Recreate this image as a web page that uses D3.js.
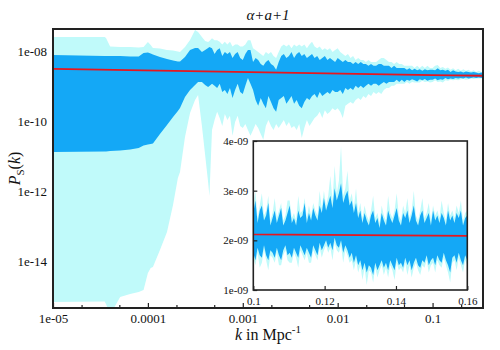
<!DOCTYPE html>
<html>
<head>
<meta charset="utf-8">
<script src="https://cdn.jsdelivr.net/npm/d3@7"></script>
<style>
body { margin: 0; background: #fff; }
</style>
</head>
<body>
<svg id="chart" width="500" height="350"></svg>
<script>
// ---- main panel: k (1/Mpc) and band edges of P_S(k) ----
var mainK = [1e-5, 3.5e-5, 3.62e-5, 4.0e-5, 5.1e-5, 6.5e-5, 8.0e-5, 9.0e-5, 1.0e-4, 1.07e-4, 1.13e-4, 1.34e-4,
  1.59e-4, 1.84e-4, 2.07e-4, 2.18e-4, 2.46e-4, 2.78e-4, 3.14e-4, 3.38e-4, 3.71e-4, 4.01e-4, 4.31e-4, 4.45e-4,
  4.739e-4, 5.043e-4, 5.367e-4, 5.712e-4, 6.079e-4, 6.469e-4, 6.884e-4, 7.326e-4, 7.797e-4, 8.297e-4, 8.830e-4, 9.397e-4,
  1.000e-3, 1.064e-3, 1.133e-3, 1.205e-3, 1.283e-3, 1.365e-3, 1.453e-3, 1.546e-3, 1.645e-3, 1.751e-3, 1.863e-3, 1.983e-3,
  2.110e-3, 2.246e-3, 2.390e-3, 2.543e-3, 2.707e-3, 2.881e-3, 3.066e-3, 3.262e-3, 3.472e-3, 3.695e-3, 3.932e-3, 4.184e-3,
  4.453e-3, 4.739e-3, 5.043e-3, 5.367e-3, 5.712e-3, 6.079e-3, 6.469e-3, 6.884e-3, 7.326e-3, 7.797e-3, 8.297e-3, 8.830e-3, 9.397e-3,
  1.000e-2, 1.064e-2, 1.133e-2, 1.205e-2, 1.283e-2, 1.365e-2, 1.453e-2, 1.546e-2, 1.645e-2, 1.751e-2, 1.863e-2, 1.983e-2,
  2.110e-2, 2.246e-2, 2.390e-2, 2.543e-2, 2.707e-2, 2.881e-2, 3.066e-2, 3.262e-2, 3.472e-2, 3.695e-2, 3.932e-2, 4.184e-2,
  4.453e-2, 4.739e-2, 5.043e-2, 5.367e-2, 5.712e-2, 6.079e-2, 6.469e-2, 6.884e-2, 7.326e-2, 7.797e-2, 8.297e-2, 8.830e-2, 9.397e-2,
  0.1000, 0.1064, 0.1133, 0.1205, 0.1283, 0.1365, 0.1453, 0.1546, 0.1645, 0.1751, 0.1863, 0.1983,
  0.2110, 0.2246, 0.2390, 0.2543, 0.2707, 0.2881, 0.3066, 0.3262, 0.34];

var mainHi2 = [2.6e-8, 2.6e-8, 2.43e-8, 1.39e-8, 1.35e-8, 1.35e-8, 1.3e-8, 1.35e-8, 1.87e-8, 1.53e-8, 1.26e-8, 1.22e-8,
  1.1e-8, 1.07e-8, 1.0e-8, 9.7e-9, 1.35e-8, 2.13e-8, 4.1e-8, 3.6e-8, 2.6e-8, 2.0e-8, 1.87e-8, 2.0e-8,
  2.4e-8, 2.1e-8, 2.1e-8, 1.9e-8, 1.6e-8, 1.9e-8, 1.6e-8, 1.9e-8, 1.4e-8, 1.6e-8, 1.6e-8, 1.4e-8,
  1.4e-8, 1.6e-8, 2.1e-8, 2.1e-8, 1.25e-8, 1.1e-8, 9.7e-9, 8.5e-9, 7.4e-9, 9.7e-9, 8.5e-9, 9.7e-9,
  7.4e-9, 6.5e-9, 9.7e-9, 1.4e-8, 1.6e-8, 1.4e-8, 1.6e-8, 1.25e-8, 1.6e-8, 1.4e-8, 1.6e-8, 1.4e-8,
  1.6e-8, 1.25e-8, 1.6e-8, 1.9e-8, 1.4e-8, 1.25e-8, 1.4e-8, 1.1e-8, 1.25e-8, 1.1e-8, 1.25e-8, 9.7e-9, 1.1e-8,
  1.25e-8, 9.7e-9, 8.5e-9, 7.4e-9, 8.5e-9, 6.5e-9, 7.4e-9, 5.7e-9, 6.5e-9, 5.7e-9, 5.7e-9, 5.0e-9,
  5.7e-9, 5.0e-9, 5.0e-9, 5.0e-9, 5.7e-9, 6.5e-9, 6.5e-9, 5.7e-9, 5.0e-9, 5.0e-9, 4.4e-9, 5.0e-9,
  4.4e-9, 4.4e-9, 3.9e-9, 3.9e-9, 3.9e-9, 3.9e-9, 3.4e-9, 3.9e-9, 3.4e-9, 3.9e-9, 3.4e-9, 3.9e-9, 3.4e-9,
  3.4e-9, 3.9e-9, 4.1e-9, 3.4e-9, 3.6e-9, 3.2e-9, 3.5e-9, 3.0e-9, 3.3e-9, 2.9e-9, 3.2e-9, 2.8e-9,
  3.1e-9, 2.8e-9, 3.0e-9, 2.7e-9, 2.9e-9, 2.6e-9, 2.8e-9, 2.6e-9, 2.6e-9];

var mainHi1 = [7.9e-9, 7.4e-9, 7.4e-9, 7.4e-9, 7.4e-9, 7.2e-9, 7.2e-9, 9.06e-9, 9.36e-9, 8.77e-9, 8.2e-9, 6.97e-9,
  6.1e-9, 5.53e-9, 5.18e-9, 5.18e-9, 6.97e-9, 1.1e-8, 1.26e-8, 1.26e-8, 9.7e-9, 1.1e-8, 1.26e-8, 1.35e-8,
  1.25e-8, 8.5e-9, 1.1e-8, 1.25e-8, 7.4e-9, 9.7e-9, 8.5e-9, 9.7e-9, 6.5e-9, 8.5e-9, 9.7e-9, 6.5e-9,
  5.7e-9, 8.5e-9, 1.1e-8, 1.1e-8, 5.0e-9, 6.5e-9, 5.7e-9, 4.4e-9, 3.9e-9, 5.0e-9, 5.7e-9, 4.4e-9,
  3.9e-9, 3.0e-9, 5.0e-9, 7.4e-9, 8.5e-9, 6.5e-9, 7.4e-9, 9.7e-9, 6.5e-9, 8.5e-9, 9.7e-9, 7.4e-9,
  8.5e-9, 6.5e-9, 7.4e-9, 8.5e-9, 6.5e-9, 7.4e-9, 5.7e-9, 6.5e-9, 7.4e-9, 5.7e-9, 6.5e-9, 5.7e-9, 5.0e-9,
  6.5e-9, 5.7e-9, 5.0e-9, 5.7e-9, 5.0e-9, 5.0e-9, 4.4e-9, 5.0e-9, 4.4e-9, 5.0e-9, 4.4e-9, 4.4e-9,
  3.9e-9, 4.4e-9, 3.9e-9, 3.9e-9, 4.4e-9, 4.4e-9, 3.9e-9, 3.9e-9, 3.9e-9, 3.4e-9, 3.9e-9, 3.4e-9,
  3.4e-9, 3.4e-9, 3.4e-9, 3.0e-9, 3.3e-9, 2.9e-9, 3.2e-9, 2.9e-9, 3.1e-9, 2.8e-9, 3.1e-9, 2.9e-9, 3.0e-9,
  3.0e-9, 2.9e-9, 3.3e-9, 2.9e-9, 3.0e-9, 2.8e-9, 3.0e-9, 2.6e-9, 2.9e-9, 2.7e-9, 2.6e-9, 2.7e-9,
  2.5e-9, 2.7e-9, 2.6e-9, 2.5e-9, 2.6e-9, 2.5e-9, 2.4e-9, 2.5e-9, 2.4e-9];

var mainLo1 = [1.35e-11, 1.39e-11, 1.39e-11, 1.44e-11, 1.48e-11, 1.58e-11, 1.75e-11, 2.06e-11, 2.2e-11, 2.28e-11, 2.35e-11, 4.4e-11,
  7.9e-11, 1.35e-10, 2.0e-10, 2.43e-10, 5.0e-10, 7.9e-10, 1.1e-9, 1.35e-9, 1.35e-9, 1.1e-9, 9.7e-10, 1.03e-9,
  1.2e-9, 1.05e-9, 9.1e-10, 1.2e-9, 7e-10, 8e-10, 6.1e-10, 9.1e-10, 4.7e-10, 8e-10, 1.2e-9, 7e-10,
  6.1e-10, 1.05e-9, 1.75e-9, 1.2e-9, 8e-10, 4.1e-10, 2.8e-10, 4.7e-10, 3.2e-10, 2.4e-10, 5.4e-10, 3.6e-10,
  2.4e-10, 1.9e-10, 4.1e-10, 4.7e-10, 5.4e-10, 3.2e-10, 4.1e-10, 5.4e-10, 3.2e-10, 4.1e-10, 2.8e-10, 2.4e-10,
  3.6e-10, 4.7e-10, 4.1e-10, 5.4e-10, 6.1e-10, 4.7e-10, 7e-10, 5.4e-10, 6.1e-10, 7e-10, 6.1e-10, 8e-10, 7e-10,
  7e-10, 8e-10, 6.1e-10, 9.1e-10, 8e-10, 9.1e-10, 8e-10, 1.05e-9, 9.1e-10, 1.05e-9, 9.1e-10, 1.05e-9,
  1.2e-9, 1.05e-9, 1.2e-9, 1.2e-9, 1.05e-9, 1.2e-9, 1.35e-9, 1.2e-9, 1.35e-9, 1.35e-9, 1.35e-9, 1.55e-9,
  1.35e-9, 1.55e-9, 1.35e-9, 1.55e-9, 1.45e-9, 1.6e-9, 1.5e-9, 1.4e-9, 1.6e-9, 1.5e-9, 1.65e-9, 1.45e-9, 1.55e-9,
  1.55e-9, 1.7e-9, 1.5e-9, 1.6e-9, 1.55e-9, 1.75e-9, 1.6e-9, 1.7e-9, 1.65e-9, 1.75e-9, 1.7e-9, 1.75e-9,
  1.7e-9, 1.8e-9, 1.7e-9, 1.75e-9, 1.8e-9, 1.75e-9, 1.8e-9, 1.75e-9, 1.8e-9];

var mainLo2 = [7.0e-16, 7.2e-16, 6.1e-16, 3.0e-16, 9.7e-16, 1.18e-15, 1.35e-15, 1.53e-15, 4.7e-15, 6.5e-15, 7.0e-15, 2.13e-14,
  7.0e-14, 4.1e-13, 2.43e-12, 3.6e-12, 3.6e-11, 1.75e-10, 4.1e-10, 5.7e-10, 7.4e-11, 1.1e-11, 1.87e-12, 7.4e-13,
  5.7e-11, 1.1e-10, 1.9e-10, 1.25e-10, 7.4e-11, 1.65e-10, 1.1e-10, 1.45e-10, 3.9e-11, 9.7e-11, 1.45e-10, 7.4e-11,
  6.5e-11, 8.5e-11, 5.7e-11, 3.9e-11, 5.7e-11, 8.5e-11, 6.5e-11, 4.4e-11, 3.0e-11, 7.4e-11, 1.1e-10, 7.4e-11,
  5.7e-11, 8.5e-11, 6.5e-11, 8.5e-11, 1.1e-10, 7.4e-11, 9.7e-11, 6.5e-11, 7.4e-11, 5.7e-11, 8.5e-11, 3.4e-11,
  6.5e-11, 1.1e-10, 7.4e-11, 9.7e-11, 1.25e-10, 1.45e-10, 1.9e-10, 1.25e-10, 2.1e-10, 1.65e-10, 1.9e-10, 2.4e-10, 2.1e-10,
  2.4e-10, 1.9e-10, 1.25e-10, 2.8e-10, 3.2e-10, 3.6e-10, 3.2e-10, 4.1e-10, 4.7e-10, 4.1e-10, 5.4e-10, 4.7e-10,
  6.1e-10, 5.4e-10, 7e-10, 6.1e-10, 7e-10, 6.1e-10, 8e-10, 9.1e-10, 9.1e-10, 1.05e-9, 1.05e-9, 1.2e-9,
  1.2e-9, 1.2e-9, 1.2e-9, 1.35e-9, 1.2e-9, 1.35e-9, 1.3e-9, 1.3e-9, 1.3e-9, 1.45e-9, 1.35e-9, 1.4e-9, 1.3e-9,
  1.35e-9, 1.5e-9, 1.35e-9, 1.4e-9, 1.3e-9, 1.5e-9, 1.45e-9, 1.55e-9, 1.5e-9, 1.55e-9, 1.5e-9, 1.6e-9,
  1.65e-9, 1.55e-9, 1.6e-9, 1.7e-9, 1.65e-9, 1.7e-9, 1.7e-9, 1.7e-9, 1.75e-9];

// best-fit power law (red line)
var fitK = [1e-5, 0.1, 0.16, 0.34];
var fitP = [3.2e-9, 2.12e-9, 2.09e-9, 2.03e-9];

// ---- inset: zoom on 0.1 < k < 0.16, values in units of 1e-9 ----
var insetUnit = 1e-9;
var insetK = [0.1000, 0.1006, 0.1012, 0.1018, 0.1024, 0.1030, 0.1036, 0.1042, 0.1048, 0.1054,
  0.1060, 0.1066, 0.1072, 0.1078, 0.1084, 0.1090, 0.1096, 0.1102, 0.1108, 0.1114,
  0.1120, 0.1126, 0.1132, 0.1138, 0.1144, 0.1150, 0.1156, 0.1162, 0.1168, 0.1174,
  0.1180, 0.1186, 0.1192, 0.1198, 0.1204, 0.1210, 0.1216, 0.1222, 0.1228, 0.1234,
  0.1240, 0.1246, 0.1252, 0.1258, 0.1264, 0.1270, 0.1276, 0.1282, 0.1288, 0.1294,
  0.1300, 0.1306, 0.1312, 0.1318, 0.1324, 0.1330, 0.1336, 0.1342, 0.1348, 0.1354,
  0.1360, 0.1366, 0.1372, 0.1378, 0.1384, 0.1390, 0.1396, 0.1402, 0.1408, 0.1414,
  0.1420, 0.1426, 0.1432, 0.1438, 0.1444, 0.1450, 0.1456, 0.1462, 0.1468, 0.1474,
  0.1480, 0.1486, 0.1492, 0.1498, 0.1504, 0.1510, 0.1516, 0.1522, 0.1528, 0.1534,
  0.1540, 0.1546, 0.1552, 0.1558, 0.1564, 0.1570, 0.1576, 0.1582, 0.1588, 0.1594, 0.1600];

var insetHi2 = [2.65, 3.0, 2.45, 2.7, 2.95, 2.5, 2.6, 2.9, 2.4, 2.55,
  2.85, 2.45, 2.6, 2.75, 2.4, 2.5, 2.8, 2.8, 2.45, 2.55,
  2.4, 2.9, 2.55, 2.6, 2.85, 2.45, 2.7, 2.5, 2.75, 2.6,
  2.5, 3.0, 2.65, 3.0, 2.7, 2.9, 3.3, 2.8, 3.5, 2.95,
  3.2, 3.9, 2.9, 3.05, 3.4, 2.8, 2.95, 2.65, 3.05, 2.55,
  2.75, 2.45, 2.7, 2.5, 2.4, 2.6, 2.9, 2.45, 2.55, 2.35,
  2.7, 2.5, 2.4, 2.9, 2.55, 2.45, 2.6, 2.95, 2.5, 2.4,
  2.7, 2.55, 2.85, 2.45, 2.6, 3.0, 2.5, 2.4, 2.6, 2.85,
  2.45, 2.55, 2.75, 2.4, 2.7, 2.5, 2.6, 2.45, 2.8, 2.55,
  2.4, 2.75, 2.5, 2.6, 2.45, 2.7, 2.55, 2.8, 2.4, 2.55, 2.6];
var insetHi1 = [2.55, 2.8, 2.35, 2.6, 2.7, 2.4, 2.5, 2.75, 2.3, 2.45,
  2.6, 2.35, 2.5, 2.65, 2.3, 2.4, 2.55, 2.7, 2.35, 2.45,
  2.3, 2.6, 2.45, 2.5, 2.75, 2.35, 2.55, 2.4, 2.65, 2.5,
  2.4, 2.7, 2.55, 2.85, 2.6, 2.75, 2.9, 2.65, 3.05, 2.8,
  2.95, 3.15, 2.75, 2.9, 3.0, 2.7, 2.8, 2.55, 2.75, 2.45,
  2.6, 2.35, 2.55, 2.4, 2.3, 2.5, 2.6, 2.35, 2.45, 2.25,
  2.55, 2.4, 2.3, 2.6, 2.45, 2.35, 2.5, 2.65, 2.4, 2.3,
  2.55, 2.45, 2.6, 2.35, 2.5, 2.7, 2.4, 2.3, 2.5, 2.6,
  2.35, 2.45, 2.55, 2.3, 2.6, 2.4, 2.5, 2.35, 2.55, 2.45,
  2.3, 2.6, 2.4, 2.5, 2.35, 2.55, 2.45, 2.6, 2.3, 2.45, 2.5];
var insetLo1 = [1.75, 1.6, 1.85, 1.7, 1.65, 1.9, 1.7, 1.6, 1.8, 1.75,
  1.65, 1.85, 1.7, 1.6, 1.8, 1.9, 1.7, 1.75, 1.65, 1.85,
  1.75, 1.65, 1.9, 1.8, 1.7, 1.85, 1.75, 1.65, 1.9, 1.8,
  1.7, 1.95, 1.8, 1.9, 2.0, 1.85, 1.95, 1.8, 2.05, 1.9,
  1.85, 2.0, 1.75, 1.9, 1.8, 1.65, 1.75, 1.55, 1.7, 1.5,
  1.6, 1.4, 1.55, 1.35, 1.5, 1.45, 1.3, 1.55, 1.4, 1.5,
  1.6, 1.45, 1.55, 1.4, 1.6, 1.5, 1.4, 1.65, 1.5, 1.55,
  1.45, 1.65, 1.5, 1.6, 1.4, 1.55, 1.65, 1.5, 1.45, 1.6,
  1.55, 1.7, 1.5, 1.6, 1.65, 1.5, 1.7, 1.6, 1.55, 1.75,
  1.6, 1.5, 1.35, 1.65, 1.7, 1.55, 1.75, 1.6, 1.5, 1.7, 1.6];
var insetLo2 = [1.65, 1.5, 1.75, 1.45, 1.55, 1.8, 1.6, 1.4, 1.7, 1.65,
  1.55, 1.75, 1.5, 1.5, 1.7, 1.8, 1.6, 1.55, 1.55, 1.75,
  1.65, 1.45, 1.8, 1.7, 1.6, 1.75, 1.55, 1.55, 1.8, 1.7,
  1.6, 1.85, 1.65, 1.8, 1.9, 1.75, 1.85, 1.6, 1.95, 1.8,
  1.75, 1.9, 1.55, 1.8, 1.7, 1.55, 1.6, 1.4, 1.6, 1.35,
  1.5, 1.2, 1.45, 1.1, 1.4, 1.35, 1.15, 1.45, 1.25, 1.4,
  1.5, 1.3, 1.45, 1.25, 1.5, 1.4, 1.2, 1.55, 1.4, 1.45,
  1.35, 1.55, 1.3, 1.5, 1.25, 1.45, 1.55, 1.4, 1.3, 1.5,
  1.45, 1.6, 1.35, 1.5, 1.55, 1.35, 1.6, 1.5, 1.45, 1.65,
  1.5, 1.35, 1.15, 1.55, 1.6, 1.4, 1.65, 1.5, 1.35, 1.6, 1.5];

// axis ticks
var xTickVals = [1e-5, 1e-4, 1e-3, 1e-2, 0.1];
var xTickLabels = ["1e-05", "0.0001", "0.001", "0.01", "0.1"];
var xMinorVals = [2e-5, 5e-5, 2e-4, 5e-4, 2e-3, 5e-3, 2e-2, 5e-2, 0.2];
var yTickVals = [1e-8, 1e-10, 1e-12, 1e-14];
var yTickLabels = ["1e-08", "1e-10", "1e-12", "1e-14"];
var insetXTicks = [0.1, 0.12, 0.14, 0.16];
var insetXLabels = ["0.1", "0.12", "0.14", "0.16"];
var insetYTicks = [1e-9, 2e-9, 3e-9, 4e-9];
var insetYLabels = ["1e-09", "2e-09", "3e-09", "4e-09"];

var lightColor = "#c0fafa", bandColor = "#14a8f6", fitColor = "#e8161e";
var serif = "'Liberation Serif'";

var svg = d3.select("#chart");
var plot = {left: 53, right: 483, top: 29, bottom: 308};
var box = {left: 253.3, right: 467.3, top: 141, bottom: 290};

var x = d3.scaleLog().domain([1e-5, 0.34]).range([plot.left, plot.right]);
var y = d3.scaleLog().domain([4.69e-16, 4.4e-8]).range([plot.bottom, plot.top]);
var xi = d3.scaleLinear().domain([0.1, 0.16]).range([box.left, box.right]);
var yi = d3.scaleLinear().domain([1e-9, 4e-9]).range([box.bottom, box.top]);

svg.append("rect").attr("width", 500).attr("height", 350).attr("fill", "#fff");

var defs = svg.append("defs");
defs.append("clipPath").attr("id", "clipMain").append("rect")
  .attr("x", plot.left).attr("y", plot.top)
  .attr("width", plot.right - plot.left).attr("height", plot.bottom - plot.top);
defs.append("clipPath").attr("id", "clipInset").append("rect")
  .attr("x", box.left).attr("y", box.top)
  .attr("width", box.right - box.left).attr("height", box.bottom - box.top);

var mainRows = mainK.map(function (k, i) {
  return {k: k, hi2: mainHi2[i], hi1: mainHi1[i], lo1: mainLo1[i], lo2: mainLo2[i]};
});
var insetRows = insetK.map(function (k, i) {
  return {k: k, hi2: insetHi2[i] * insetUnit, hi1: insetHi1[i] * insetUnit,
    lo1: insetLo1[i] * insetUnit, lo2: insetLo2[i] * insetUnit};
});
var fitRows = fitK.map(function (k, i) { return {k: k, p: fitP[i]}; });

//main panel bands
var main = svg.append("g").attr("clip-path", "url(#clipMain)");
main.append("path").datum(mainRows)
  .attr("fill", lightColor)
  .attr("d", d3.area().x(function (d) { return x(d.k); })
    .y0(function (d) { return y(d.lo2); }).y1(function (d) { return y(d.hi2); }));
main.append("path").datum(mainRows)
  .attr("fill", bandColor)
  .attr("d", d3.area().x(function (d) { return x(d.k); })
    .y0(function (d) { return y(d.lo1); }).y1(function (d) { return y(d.hi1); }));
main.append("path").datum(fitRows)
  .attr("fill", "none").attr("stroke", fitColor).attr("stroke-width", 1.8)
  .attr("d", d3.line().x(function (d) { return x(d.k); }).y(function (d) { return y(d.p); }));

// main axes
var xAxis = svg.append("g").attr("transform", "translate(0," + plot.bottom + ")")
  .call(d3.axisBottom(x).tickValues(xTickVals)
    .tickFormat(function (d, i) { return xTickLabels[i]; })
    .tickSize(-5).tickPadding(6));
svg.append("g").attr("transform", "translate(0," + plot.bottom + ")")
  .call(d3.axisBottom(x).tickValues(xMinorVals).tickFormat("").tickSize(-3));
var yAxis = svg.append("g").attr("transform", "translate(" + plot.left + ",0)")
  .call(d3.axisLeft(y).tickValues(yTickVals)
    .tickFormat(function (d, i) { return yTickLabels[i]; })
    .tickSize(0).tickPadding(6));
svg.selectAll(".domain").remove();
xAxis.selectAll("text").attr("font-size", 13);
yAxis.selectAll("text").attr("font-size", 13);
svg.selectAll(".tick line").attr("stroke", "#222").attr("stroke-width", 1.2);

svg.append("rect")
  .attr("x", plot.left).attr("y", plot.top)
  .attr("width", plot.right - plot.left).attr("height", plot.bottom - plot.top)
  .attr("fill", "none").attr("stroke", "#222").attr("stroke-width", 2);

// inset
svg.append("rect")
  .attr("x", box.left).attr("y", box.top)
  .attr("width", box.right - box.left).attr("height", box.bottom - box.top)
  .attr("fill", "#fff");
var ins = svg.append("g").attr("clip-path", "url(#clipInset)");
ins.append("path").datum(insetRows)
  .attr("fill", lightColor)
  .attr("d", d3.area().x(function (d) { return xi(d.k); })
    .y0(function (d) { return yi(d.lo2); }).y1(function (d) { return yi(d.hi2); }));
ins.append("path").datum(insetRows)
  .attr("fill", bandColor)
  .attr("d", d3.area().x(function (d) { return xi(d.k); })
    .y0(function (d) { return yi(d.lo1); }).y1(function (d) { return yi(d.hi1); }));
ins.append("path").datum(fitRows)
  .attr("fill", "none").attr("stroke", fitColor).attr("stroke-width", 1.8)
  .attr("d", d3.line().x(function (d) { return xi(d.k); }).y(function (d) { return yi(d.p); }));

var ixAxis = svg.append("g").attr("transform", "translate(0," + box.bottom + ")")
  .call(d3.axisBottom(xi).tickValues(insetXTicks)
    .tickFormat(function (d, i) { return insetXLabels[i]; })
    .tickSize(-4).tickPadding(7));
var iyAxis = svg.append("g").attr("transform", "translate(" + box.left + ",0)")
  .call(d3.axisLeft(yi).tickValues(insetYTicks)
    .tickFormat(function (d, i) { return insetYLabels[i]; })
    .tickSize(-4).tickPadding(5));
ixAxis.select(".domain").remove();
iyAxis.select(".domain").remove();
ixAxis.selectAll("text").attr("font-size", 11);
iyAxis.selectAll("text").attr("font-size", 11);
ixAxis.selectAll(".tick line").attr("stroke", "#222").attr("stroke-width", 1.2);
iyAxis.selectAll(".tick line").attr("stroke", "#222").attr("stroke-width", 1.2);

svg.append("rect")
  .attr("x", box.left).attr("y", box.top)
  .attr("width", box.right - box.left).attr("height", box.bottom - box.top)
  .attr("fill", "none").attr("stroke", "#222").attr("stroke-width", 1.6);

// labels
svg.append("text").attr("x", (plot.left + plot.right) / 2).attr("y", 20)
  .attr("text-anchor", "middle").attr("font-size", 15).attr("font-style", "italic")
  .text("\u03b1+a+1");

var xl = svg.append("text").attr("x", (plot.left + plot.right) / 2).attr("y", 340)
  .attr("text-anchor", "middle").attr("font-size", 16);
xl.append("tspan").attr("font-style", "italic").text("k");
xl.append("tspan").text(" in Mpc");
xl.append("tspan").attr("font-size", 11).attr("dy", -7).text("-1");

var yl = svg.append("text")
  .attr("transform", "translate(20," + (plot.top + plot.bottom) / 2 + ") rotate(-90)")
  .attr("text-anchor", "middle").attr("font-size", 16);
yl.append("tspan").attr("font-style", "italic").text("P");
yl.append("tspan").attr("font-size", 11).attr("dy", 4).text("S");
yl.append("tspan").attr("dy", -4).text("(");
yl.append("tspan").attr("font-style", "italic").text("k");
yl.append("tspan").text(")");

svg.selectAll("text").style("font-family", serif).attr("fill", "#111");
</script>
</body>
</html>
